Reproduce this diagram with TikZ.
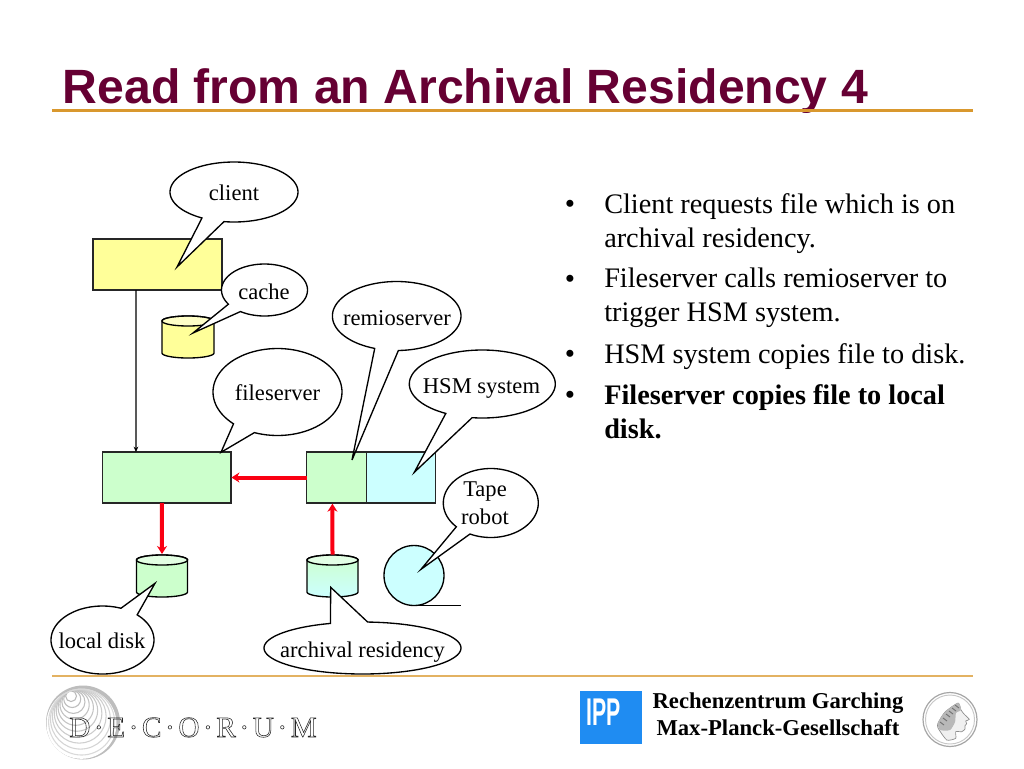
\documentclass[tikz,border=0pt]{standalone}
\usepackage{fontspec}
\usepackage{graphicx}
\setmainfont{Liberation Serif}
\newfontfamily\titlefont{Liberation Sans}
\newfontfamily\decofont[LetterSpace=12]{Liberation Serif}
\usetikzlibrary{arrows.meta,calc}
\definecolor{titlecol}{HTML}{660033}
\definecolor{rulecol}{HTML}{D9982E}
\definecolor{rulecolb}{HTML}{E3B262}
\definecolor{ylw}{HTML}{FFFF99}
\definecolor{grn}{HTML}{CCFFCC}
\definecolor{cyn}{HTML}{CCFFFF}
\definecolor{iblue}{HTML}{1F8CF2}
\definecolor{redarrow}{HTML}{FA0012}
\tikzset{
  boxnode/.style={draw=black!85,line width=1.1pt,inner sep=0,outer sep=0},
  bubbleline/.style={draw=black,fill=white,line width=1pt,line join=miter},
  bubbletext/.style={font=\fontsize{16.9pt}{19pt}\selectfont,inner sep=0,align=center,anchor=base},
  bullettext/.style={font=\fontsize{21.2pt}{25.5pt}\selectfont,inner sep=0,align=left,anchor=north west},
  bulletdot/.style={font=\fontsize{22pt}{25pt}\selectfont,inner sep=0,anchor=base},
  redflow/.style={draw=redarrow,line width=3pt,-{Stealth[length=6pt,width=7.5pt]},shorten >=0.5pt},
  thinflow/.style={draw=black,line width=1pt,-{Stealth[length=4pt,width=3.5pt]}},
  hollowpart/.style={inner sep=0,outer sep=0,minimum width=38.25pt,minimum height=32pt}
}
\newcommand{\bubbleshape}[8]{%
  \path[bubbleline] plot[domain=#5:#6,samples=90,smooth] ({#1+#3*cos(\x)},{#2+#4*sin(\x)}) -- (#7,#8) -- cycle;}
\newcommand{\cyl}[6]{%
  \path[draw=black,line width=1pt,#6]
    plot[domain=180:360,samples=40] ({#1+#3*cos(\x)},{#2+#5*sin(\x)})
    -- plot[domain=0:180,samples=40] ({#1+#3*cos(\x)},{#2+#4+#5*sin(\x)}) -- cycle;
  \draw[line width=1pt,fill=white,fill opacity=.45] plot[domain=0:360,samples=60] ({#1+#3*cos(\x)},{#2+#5*sin(\x)}) -- cycle;}
\begin{document}
\begin{tikzpicture}[x=.75pt,y=-.75pt]
\useasboundingbox (0,0) rectangle (1024,768);
\fill[white] (0,0) rectangle (1024,768);
% title and rules
\node[anchor=base west,inner sep=0,text=titlecol,font=\titlefont\bfseries\fontsize{36.1pt}{40pt}\selectfont] (title) at (62.5,103) {Read from an Archival Residency 4};
\draw[rulecol,line width=2.2pt] (52,110.5) -- (973,110.5);
\draw[rulecolb,line width=1.5pt] (52,676) -- (973,676);
% boxes
\node[boxnode,fill=ylw,minimum width=96.75pt,minimum height=38.25pt] (clientbox) at (157.5,264.5) {};
\node[boxnode,fill=grn,minimum width=96.4pt,minimum height=38.25pt] (fsbox) at (166.5,477.5) {};
\node[boxnode,fill=grn,minimum width=45pt,minimum height=38.25pt] (remiobox) at (336.7,477.5) {};
\node[boxnode,fill=cyn,minimum width=51.5pt,minimum height=38.25pt] (hsmbox) at (401,477.5) {};
% cylinders
\cyl{188}{321}{26}{32}{5}{fill=ylw}
\cyl{162}{560}{25.5}{32}{5}{fill=grn}
\cyl{332.5}{560}{25.5}{32}{5}{top color=grn,bottom color=cyn}
\node[hollowpart] (localdisk) at (162,576) {};
\node[hollowpart] (archdisk) at (332.5,576) {};
% tape
\node[draw=black,fill=cyn,line width=1pt,circle,minimum size=45pt,inner sep=0,outer sep=0] (tape) at (414,575.5) {};
\coordinate (tapeend) at (461,605.5);
\draw[line width=1pt] (tape.south) -- (tapeend);
% connectors
\draw[thinflow] ([xshift=-16.1pt]clientbox.south) -- ([xshift=-22.9pt]fsbox.north);
\draw[redflow] (remiobox.west) -- (fsbox.east);
\draw[redflow] ([xshift=-3.4pt]fsbox.south) -- (localdisk.north);
\draw[redflow] (archdisk.north) -- ([xshift=-3.2pt]remiobox.south);
% bubbles
\bubbleshape{234}{192}{64}{30}{120}{459}{177}{267}
\node[bubbletext] (clientl) at (234,200.5) {client};
\bubbleshape{264.5}{290}{43}{26}{147}{484}{193}{333}
\node[bubbletext] (cachel) at (264,299) {cache};
\bubbleshape{396.7}{316}{64.3}{34.5}{110}{448.5}{352}{460}
\node[bubbletext] (remiol) at (397,325) {remioserver};
\bubbleshape{482.3}{384}{73}{34}{120}{458}{414.3}{472.3}
\node[bubbletext] (hsml) at (481.5,393.5) {HSM system};
\bubbleshape{277.5}{392}{64.5}{43.5}{133}{471}{221}{452.3}
\node[bubbletext] (fsl) at (277.5,400.5) {fileserver};
\bubbleshape{490.8}{503}{47.5}{34.5}{136.5}{476}{421}{569.3}
\node[bubbletext,anchor=north,font=\fontsize{16.9pt}{21.2pt}\selectfont] (tapel) at (485,481) {Tape\\robot};
\bubbleshape{102.5}{640}{51.5}{34}{-47.7}{291}{155}{583.3}
\node[bubbletext] (locall) at (102,648) {local disk};
\bubbleshape{362.5}{648}{98.5}{26}{-87}{251}{330.7}{587.3}
\node[bubbletext] (archl) at (362.5,657.5) {archival residency};
% bullets
\foreach \yy in {213.5,288.5,363.5,404.5}{\node[bulletdot] at (570,\yy) {•};}
\node[bullettext] (b1) at (604,193) {Client requests file which is on\\archival residency.};
\node[bullettext] (b2) at (604,268) {Fileserver calls remioserver to\\trigger HSM system.};
\node[bullettext] (b3) at (604,343) {HSM system copies file to disk.};
\node[bullettext] (b4) at (604,384) {\bfseries Fileserver copies file to local\\\bfseries disk.};
% decorum logo
\fill[black!26] (83,722.5) circle[radius=37];
\fill[white] (81.5,723.8) circle[radius=35];
\foreach \t/\c in {.16/27,.25/26,.34/25,.43/24,.52/23,.61/22,.70/20,.79/19,.88/17,.97/15}{\draw[black!\c,line width=.8pt] ({69+\t*13},{691+\t*32}) circle[radius={\t*34}];}
\node[anchor=base west,inner sep=0,font=\decofont\fontsize{22pt}{24pt}\selectfont,text=black!85] (deco) at (69,737) {\special{pdf:code 1 Tr 0.42 w}D·E·C·O·R·U·M\special{pdf:code 0 Tr 1 w}};
% IPP logo
\node[fill=iblue,minimum width=46.2pt,minimum height=39.8pt,inner sep=0,outer sep=0] (ipp) at (610.8,717.8) {};
\node[anchor=base west,inner sep=0,text=white,font=\titlefont\bfseries\fontsize{29pt}{30pt}\selectfont] (ipptext) at (586,725) {\scalebox{.55}[1]{IPP}};
% institute text
\node[font=\bfseries\fontsize{17pt}{20.25pt}\selectfont,align=center,inner sep=0,anchor=north] (rz) at (778,692) {Rechenzentrum Garching\\Max-Planck-Gesellschaft};
% Max Planck medal
\draw[black!35,line width=.9pt] (950,719.5) circle[radius=27];
\draw[black!22,line width=.7pt] (950,719.5) circle[radius=24.5];
\path[fill=black!6,draw=black!45,line width=.5pt] plot[smooth cycle,tension=.35] coordinates {(958,703) (961,710) (964.3,714.3) (969.3,719.3) (965.7,721) (966.7,723.7) (965,725.7) (965,729) (961.7,731.7) (955.7,731.7) (955.7,738.3) (946.7,740) (938,728) (938,723) (945,712)};
\path[fill=black!28] plot[smooth cycle,tension=.4] coordinates {(958,703) (961,710) (956,713) (955,722) (950,730) (940,730) (938,723) (945,712)};
\foreach \a/\b in {940/722,943/718,946/714,949/711,952/708,955/705}{\draw[black!55,line width=.7pt] (\a,\b) -- ++(4,3);}
\end{tikzpicture}
\end{document}
